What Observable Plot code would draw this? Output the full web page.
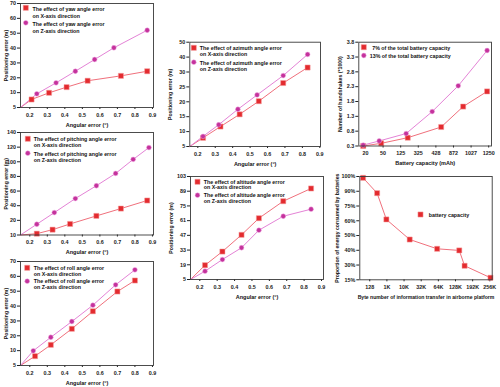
<!DOCTYPE html>
<html><head><meta charset="utf-8">
<script src="https://cdn.jsdelivr.net/npm/d3@7"></script>
<script src="https://cdn.jsdelivr.net/npm/@observablehq/plot@0.6"></script>
<style>
html,body{margin:0;padding:0;background:#fff;}
#root{position:relative;width:500px;height:387px;overflow:hidden;font-family:"Liberation Sans",Arial,sans-serif;}
#root > div{position:absolute;}
</style></head><body><div id="root"></div>
<script>
// ---------- shared tick definitions ----------
const angleTicks = [0.2, 0.3, 0.4, 0.5, 0.6, 0.7, 0.8, 0.9];
const angleTickLabels = ["0.2", "0.3", "0.4", "0.5", "0.6", "0.7", "0.8", "0.9"];

// ---------- Panel 1: yaw ----------
const yawTicks = [0, 10, 20, 30, 40, 50, 60, 70];
const yawTickLabels = ["5", "10", "20", "30", "40", "50", "60", "70"];
const yawOrigin = [0.147, 0];
const yawXx = [0.21, 0.31, 0.41, 0.53, 0.72, 0.87];
const yawXy = [5.4, 9.9, 13.7, 18.0, 21.3, 24.4];
const yawZx = [0.24, 0.35, 0.46, 0.57, 0.68, 0.87];
const yawZy = [9.2, 16.6, 24.4, 32.3, 40.2, 52.0];

// ---------- Panel 2: pitching ----------
const pitchTicks = [0, 20, 40, 60, 80, 100, 120, 140];
const pitchTickLabels = ["10", "20", "40", "60", "80", "100", "120", "140"];
const pitchOrigin = [0.147, 0];
const pitchXx = [0.24, 0.33, 0.43, 0.58, 0.72, 0.87];
const pitchXy = [1.8, 7.3, 15.1, 26.1, 36.1, 47.1];
const pitchZx = [0.24, 0.34, 0.46, 0.58, 0.69, 0.79, 0.88];
const pitchZy = [14.7, 30.6, 49.8, 67.3, 84.1, 103.3, 119.4];

// ---------- Panel 3: roll ----------
const rollTicks = [0, 10, 20, 30, 40, 50, 60, 70];
const rollTickLabels = ["5", "10", "20", "30", "40", "50", "60", "70"];
const rollOrigin = [0.147, 0];
const rollXx = [0.23, 0.32, 0.44, 0.56, 0.70, 0.80];
const rollXy = [6.3, 13.9, 24.7, 36.5, 49.8, 57.2];
const rollZx = [0.22, 0.32, 0.44, 0.56, 0.69, 0.80];
const rollZy = [9.9, 19.0, 29.6, 40.6, 54.3, 64.4];

// ---------- Panel 4: azimuth ----------
const azTicks = [5, 10, 15, 20, 25, 30, 35, 40];
const azTickLabels = ["5", "10", "15", "20", "25", "30", "40", "50"];
const azOrigin = [0.154, 5];
const azXx = [0.23, 0.33, 0.44, 0.55, 0.69, 0.83];
const azXy = [7.9, 11.7, 15.8, 20.2, 26.3, 31.5];
const azZx = [0.23, 0.32, 0.43, 0.54, 0.69, 0.83];
const azZy = [8.4, 12.3, 17.5, 22.3, 28.8, 35.9];

// ---------- Panel 5: altitude ----------
const altTicks = [5, 19, 33, 47, 61, 75, 89, 103];
const altTickLabels = ["5", "19", "33", "47", "61", "75", "89", "103"];
const altOrigin = [0.1465, 5];
const altXx = [0.23, 0.33, 0.44, 0.54, 0.68, 0.84];
const altXy = [18.6, 31.6, 47.5, 63.3, 79.5, 91.6];
const altZx = [0.23, 0.33, 0.44, 0.54, 0.68, 0.84];
const altZy = [12.9, 24.0, 35.2, 51.9, 65.2, 71.9];

// ---------- Panel 6: battery capacity vs handshakes ----------
const batXTicks = [0, 1, 2, 3, 4, 5, 6, 7];
const batXTickLabels = ["20", "50", "125", "325", "428", "872", "1027", "1250"];
const batYTicks = [0.3, 0.8, 1.3, 1.8, 2.3, 2.8, 3.3, 3.8];
const batYTickLabels = ["0.3", "0.8", "1.3", "1.8", "2.3", "2.8", "3.3", "3.8"];
const bat7x = [-0.13, 0.89, 2.40, 4.30, 5.55, 6.91];
const bat7y = [0.30, 0.39, 0.58, 0.94, 1.63, 2.14];
const bat13x = [-0.13, 0.78, 2.31, 3.79, 5.27, 6.91];
const bat13y = [0.33, 0.47, 0.72, 1.46, 2.33, 3.52];

// ---------- Panel 7: energy proportion ----------
const enXTicks = [0, 1, 2, 3, 4, 5, 6, 7];
const enXTickLabels = ["128", "1K", "10K", "32K", "64K", "128K", "192K", "256K"];
const enYTicks = [0, 1, 2, 3, 4, 5, 6, 7];
const enYTickLabels = ["15%", "30%", "40%", "50%", "60%", "75%", "90%", "100%"];
const enX = [-0.39, 0.43, 0.97, 2.33, 3.93, 5.22, 5.53, 7.04];
const enY = [6.91, 5.87, 4.09, 2.73, 2.10, 1.99, 0.95, 0.14];

// ---------- styles ----------
const RED = {symbol: "square", fill: "#e32b2f", edge: "#f6a3a3", line: "#f0707c", r: 2.9};
const PINK = {symbol: "circle", fill: "#c4329c", edge: "#f0a8e2", line: "#e483d6", r: 2.4};
const FONT = "Liberation Sans, Arial, sans-serif";

function panel(cfg) {
  const xFmt = d => cfg.xLabels[cfg.xTicks.indexOf(d)];
  const yFmt = d => cfg.yLabels[cfg.yTicks.indexOf(d)];
  const marks = [
    Plot.axisX({ticks: cfg.xTicks, tickFormat: xFmt, tickSize: 2, tickPadding: 3.3, label: null}),
    Plot.axisY({ticks: cfg.yTicks, tickFormat: yFmt, tickSize: 3, tickPadding: 1.5, label: null}),
    Plot.text([cfg.xTitle], {frameAnchor: "bottom", dy: 17.5, lineAnchor: "middle", textAnchor: "middle", fontSize: cfg.xTitleSize || 5.5, fontWeight: "bold", fill: "#111"}),
    Plot.text([cfg.yTitle], {frameAnchor: "left", dx: cfg.yTitleDx, rotate: -90, textAnchor: "middle", lineAnchor: "middle", fontSize: 5.2, fontWeight: "bold", fill: "#111"})
  ];
  cfg.series.forEach(s => {
    const pts = s.x.map((x, i) => ({x, y: s.y[i]}));
    const linePts = cfg.origin ? [{x: cfg.origin[0], y: cfg.origin[1]}, ...pts] : pts;
    marks.push(Plot.line(linePts, {x: "x", y: "y", stroke: s.style.line, strokeWidth: 1}));
  });
  cfg.series.forEach(s => {
    const pts = s.x.map((x, i) => ({x, y: s.y[i]}));
    marks.push(Plot.dot(pts, {x: "x", y: "y", symbol: s.style.symbol, r: s.style.r, fill: s.style.fill, stroke: s.style.edge, strokeWidth: 0.5}));
  });
  cfg.legend.forEach(L => {
    marks.push(Plot.dot([0], {x: cfg.xDomain[0], y: cfg.yDomain[1], dx: L.mx, dy: L.my, symbol: L.style.symbol, r: L.style.r, fill: L.style.fill, stroke: L.style.edge, strokeWidth: 0.5}));
    marks.push(Plot.text([L.text], {frameAnchor: "top-left", dx: L.tx, dy: L.my - 2, textAnchor: "start", lineAnchor: "top", fontSize: 5.3, fontWeight: "bold", lineHeight: cfg.lh || 1.2, fill: "#111"}));
  });
  marks.push(Plot.frame({stroke: "#3a3a3a", strokeWidth: 0.9}));
  const [mt, mr, mb, ml] = cfg.margin;
  const svg = Plot.plot({
    width: cfg.w, height: cfg.h,
    marginTop: mt, marginRight: mr, marginBottom: mb, marginLeft: ml,
    x: {domain: cfg.xDomain},
    y: {domain: cfg.yDomain},
    style: {fontFamily: FONT, fontSize: "5.4px", fontWeight: "bold", color: "#222", background: "transparent", overflow: "visible"},
    marks
  });
  const div = document.createElement("div");
  div.style.left = cfg.left + "px";
  div.style.top = cfg.top + "px";
  div.appendChild(svg);
  document.getElementById("root").appendChild(div);
}

function effectLegend(word) {
  return [
    {style: RED, text: `The effect of ${word} angle error\non X-axis direction`},
    {style: PINK, text: `The effect of ${word} angle error\non Z-axis direction`}
  ];
}
function placeLegend(L, m1, m2, tx) {
  L[0].mx = m1[0]; L[0].my = m1[1]; L[0].tx = tx;
  L[1].mx = m2[0]; L[1].my = m2[1]; L[1].tx = tx;
  return L;
}

const angleTitle = "Angular error (°)";
const posTitle = "Positioning error (m)";

panel({left: 0, top: 0, w: 160, h: 128, margin: [3, 7, 21, 20],
  xDomain: [0.147, 0.906], yDomain: [0, 70],
  xTicks: angleTicks, xLabels: angleTickLabels, yTicks: yawTicks, yLabels: yawTickLabels,
  xTitle: angleTitle, yTitle: posTitle, yTitleDx: -14, origin: yawOrigin, lh: 1.35,
  series: [{x: yawXx, y: yawXy, style: RED}, {x: yawZx, y: yawZy, style: PINK}],
  legend: placeLegend(effectLegend("yaw"), [5.3, 4.3], [5.3, 19.3], 12)});

panel({left: 0, top: 128, w: 160, h: 127, margin: [4, 7, 20.5, 20],
  xDomain: [0.147, 0.906], yDomain: [0, 140],
  xTicks: angleTicks, xLabels: angleTickLabels, yTicks: pitchTicks, yLabels: pitchTickLabels,
  xTitle: angleTitle, yTitle: posTitle, yTitleDx: -14, origin: pitchOrigin, lh: 1.15,
  series: [{x: pitchXx, y: pitchXy, style: RED}, {x: pitchZx, y: pitchZy, style: PINK}],
  legend: placeLegend(effectLegend("pitching"), [7.3, 6.3], [7.3, 20.7], 13.3)});

panel({left: 0, top: 255, w: 160, h: 132, margin: [6, 7, 22, 20],
  xDomain: [0.147, 0.906], yDomain: [0, 70],
  xTicks: angleTicks, xLabels: angleTickLabels, yTicks: rollTicks, yLabels: rollTickLabels,
  xTitle: angleTitle, yTitle: posTitle, yTitleDx: -14.5, origin: rollOrigin, lh: 1.1,
  series: [{x: rollXx, y: rollXy, style: RED}, {x: rollZx, y: rollZy, style: PINK}],
  legend: placeLegend(effectLegend("roll"), [6.7, 6.3], [6.7, 19.7], 13.3)});

panel({left: 160, top: 30, w: 170, h: 140, margin: [11.7, 10, 24, 29.3],
  xDomain: [0.154, 0.904], yDomain: [5, 40],
  xTicks: angleTicks, xLabels: angleTickLabels, yTicks: azTicks, yLabels: azTickLabels,
  xTitle: angleTitle, yTitle: posTitle, yTitleDx: -19, origin: azOrigin, lh: 1.15,
  series: [{x: azXx, y: azXy, style: RED}, {x: azZx, y: azZy, style: PINK}],
  legend: placeLegend(effectLegend("azimuth"), [4, 5.6], [4, 20], 10)});

panel({left: 160, top: 170, w: 170, h: 130, margin: [6, 7, 21, 30],
  xDomain: [0.1465, 0.9115], yDomain: [5, 103],
  xTicks: angleTicks, xLabels: angleTickLabels, yTicks: altTicks, yLabels: altTickLabels,
  xTitle: angleTitle, yTitle: posTitle, yTitleDx: -19, origin: altOrigin, lh: 1.05,
  series: [{x: altXx, y: altXy, style: RED}, {x: altZx, y: altZy, style: PINK}],
  legend: placeLegend(effectLegend("altitude"), [7, 5.3], [7, 18.7], 13.3)});

panel({left: 330, top: 30, w: 170, h: 140, margin: [11.7, 9, 24.5, 28.3],
  xDomain: [-0.38, 7.16], yDomain: [0.3, 3.8],
  xTicks: batXTicks, xLabels: batXTickLabels, yTicks: batYTicks, yLabels: batYTickLabels,
  xTitle: "Battery capacity (mAh)", yTitle: "Number of handshakes (*1000)", yTitleDx: -18.5,
  series: [{x: bat7x, y: bat7y, style: RED}, {x: bat13x, y: bat13y, style: PINK}],
  legend: [
    {style: RED, mx: 5, my: 5, tx: 13.4, text: "7% of the total battery capacity"},
    {style: PINK, mx: 5, my: 13.3, tx: 11, text: "13% of the total battery capacity"}
  ]});

panel({left: 330, top: 170, w: 170, h: 130, margin: [6, 8.3, 20.7, 29.3],
  xDomain: [-0.58, 7.14], yDomain: [0, 7],
  xTicks: enXTicks, xLabels: enXTickLabels, yTicks: enYTicks, yLabels: enYTickLabels,
  xTitle: "Byte number of information transfer in airborne platform", xTitleSize: 5.1,
  yTitle: "Proportion of energy consumed by batteries", yTitleDx: -22,
  series: [{x: enX, y: enY, style: RED}],
  legend: [{style: RED, mx: 60.7, my: 38, tx: 69, text: "battery capacity"}]});
</script></body></html>
